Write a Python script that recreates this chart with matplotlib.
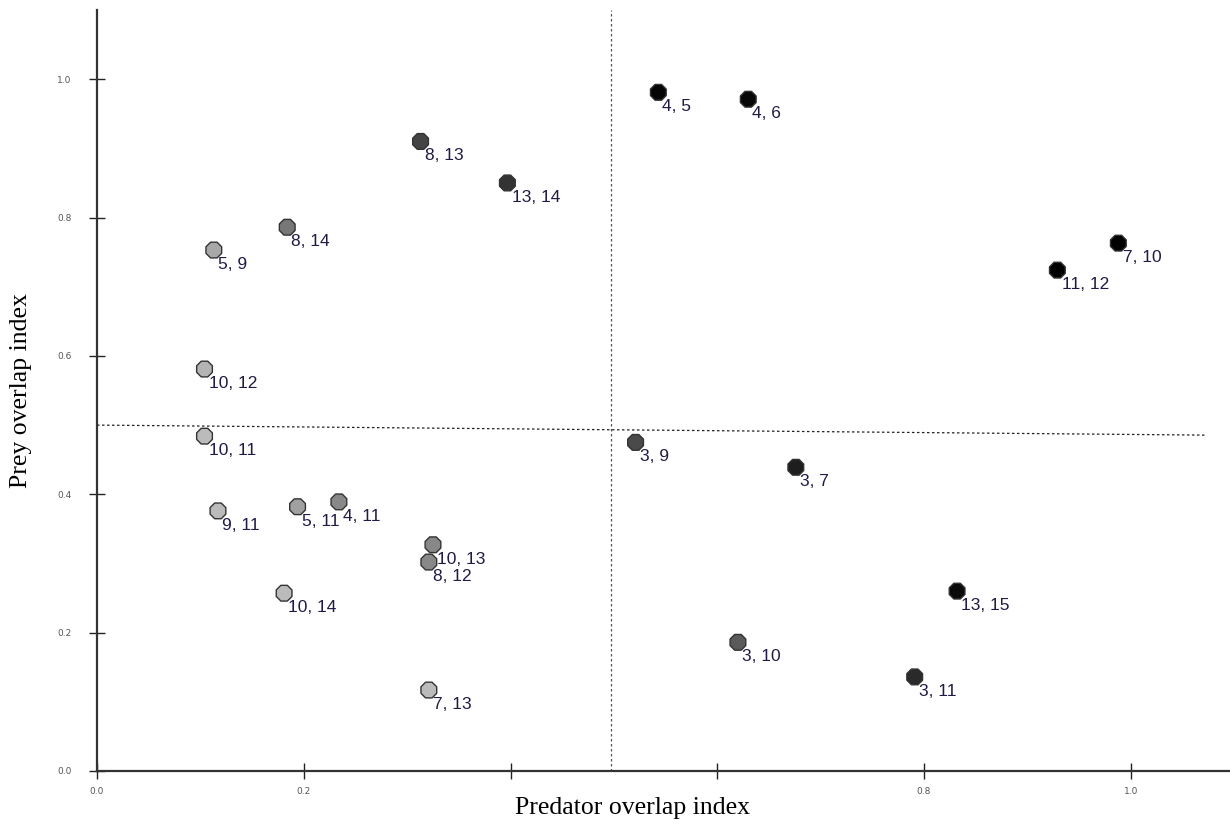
import matplotlib
matplotlib.use('Agg')
import matplotlib.pyplot as plt

# pair labels and overlap indices
pairs = ['4, 5', '4, 6', '8, 13', '13, 14', '8, 14', '5, 9', '7, 10', '11, 12',
         '10, 12', '10, 11', '3, 9', '3, 7', '9, 11', '5, 11', '4, 11', '10, 13',
         '8, 12', '10, 14', '13, 15', '3, 10', '3, 11', '7, 13']
pred = [0.543, 0.630, 0.313, 0.397, 0.184, 0.113, 0.988, 0.929,
        0.104, 0.104, 0.521, 0.676, 0.117, 0.194, 0.234, 0.325,
        0.321, 0.181, 0.832, 0.620, 0.791, 0.321]
prey = [0.981, 0.971, 0.910, 0.850, 0.786, 0.753, 0.763, 0.724,
        0.581, 0.484, 0.475, 0.439, 0.376, 0.382, 0.389, 0.327,
        0.302, 0.257, 0.260, 0.186, 0.136, 0.117]
shade = ['#050505', '#080808', '#444444', '#333333', '#777777', '#a8a8a8', '#000000', '#000000',
         '#b4b4b4', '#bbbbbb', '#4a4a4a', '#1e1e1e', '#bbbbbb', '#a0a0a0', '#888888', '#888888',
         '#888888', '#bbbbbb', '#0a0a0a', '#5a5a5a', '#2a2a2a', '#bbbbbb']

xticks = [0.0, 0.2, 0.4, 0.6, 0.8, 1.0]
xtick_labels = ['0.0', '0.2', '', '', '0.8', '1.0']
yticks = [0.0, 0.2, 0.4, 0.6, 0.8, 1.0]
ytick_labels = ['0.0', '0.2', '0.4', '0.6', '0.8', '1.0']

fig = plt.figure(figsize=(12.3, 8.25), dpi=100)
ax = fig.add_axes([97 / 1230, 1 - 771 / 825, 1 - 97 / 1230, (771 - 10) / 825])

# quadrant lines
ax.plot([0.497, 0.497], [0.0, 1.1], ls=(0, (2, 2)), color='#555555', lw=0.9)
ax.plot([0.0, 1.072], [0.5, 0.4855], ls=(0, (2, 2)), color='#222222', lw=0.9)

ax.scatter(pred, prey, s=150, marker='8', c=shade, edgecolors='#333333',
           linewidths=1.0, zorder=3)
for lab, x, y in zip(pairs, pred, prey):
    ax.annotate(lab, (x, y), xytext=(3, -5), textcoords='offset points',
                ha='left', va='top', fontsize=12.5, color='#221a44',
                family='Liberation Sans', zorder=4)

ax.set_xlim(0, 1.096)
ax.set_ylim(0, 1.1)
ax.set_xticks(xticks)
ax.set_xticklabels(xtick_labels)
ax.set_yticks(yticks)
ax.set_yticklabels(ytick_labels)
ax.tick_params(direction='inout', length=11, width=1, colors='#222222',
               labelsize=6.5, labelcolor='#555555', pad=6)
ax.tick_params(axis='y', pad=13)

for s in ['top', 'right']:
    ax.spines[s].set_visible(False)
for s in ['left', 'bottom']:
    ax.spines[s].set_linewidth(1.6)
    ax.spines[s].set_color('#333333')

ax.set_xlabel('Predator overlap index', family='Liberation Serif', fontsize=18.5)
ax.xaxis.set_label_coords(0.473, -0.034, transform=ax.transAxes)
ax.xaxis.label.set_va('top')
ax.set_ylabel('Prey overlap index', family='Liberation Serif', fontsize=18.5)
ax.yaxis.set_label_coords(-0.057, 0.5, transform=ax.transAxes)

fig.savefig('out.png', dpi=100)
